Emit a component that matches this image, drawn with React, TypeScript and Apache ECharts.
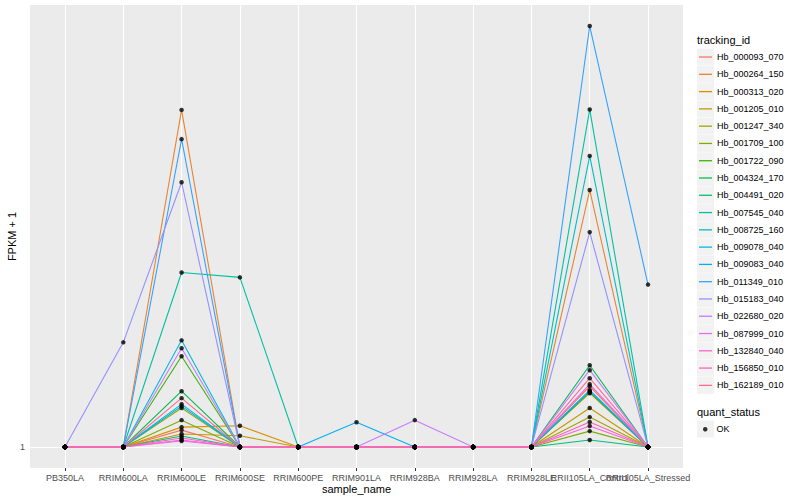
import React, { useEffect, useRef } from "react";
import * as echarts from "echarts";

const samples = [
  "PB350LA", "RRIM600LA", "RRIM600LE", "RRIM600SE", "RRIM600PE", "RRIM901LA",
  "RRIM928BA", "RRIM928LA", "RRIM928LE", "RRII105LA_Control", "RRII105LA_Stressed",
];

const trackingIds = [
  "Hb_000093_070", "Hb_000264_150", "Hb_000313_020", "Hb_001205_010", "Hb_001247_340",
  "Hb_001709_100", "Hb_001722_090", "Hb_004324_170", "Hb_004491_020", "Hb_007545_040",
  "Hb_008725_160", "Hb_009078_040", "Hb_009083_040", "Hb_011349_010", "Hb_015183_040",
  "Hb_022680_020", "Hb_087999_010", "Hb_132840_040", "Hb_156850_010", "Hb_162189_010",
];

const colors = [
  "#F8766D", "#EA8331", "#D89000", "#C09B00", "#A3A500", "#7CAE00", "#39B600", "#00BB4E",
  "#00BF7D", "#00C1A3", "#00BFC4", "#00BAE0", "#00B0F6", "#35A2FF", "#9590FF", "#C77CFF",
  "#E76BF3", "#FA62DB", "#FF62BC", "#FF6C91",
];

// FPKM + 1 per sample, in the order of `samples`
const hb000093_070 = [1, 1, 1.081, 1, 1, 1, 1, 1, 1, 1.324, 1];
const hb000264_150 = [1, 1, 4.75, 1, 1, 1, 1, 1, 1, 3.28, 1];
const hb000313_020 = [1, 1, 1.096, 1.103, 1, 1, 1, 1, 1, 1.282, 1];
const hb001205_010 = [1, 1, 1.062, 1.053, 1, 1, 1, 1, 1, 1.197, 1];
const hb001247_340 = [1, 1, 1.197, 1, 1, 1, 1, 1, 1, 1.148, 1];
const hb001709_100 = [1, 1, 1.132, 1, 1, 1, 1, 1, 1, 1.076, 1];
const hb001722_090 = [1, 1, 1.521, 1, 1, 1, 1, 1, 1, 1.288, 1];
const hb004324_170 = [1, 1, 1.294, 1, 1, 1, 1, 1, 1, 1.459, 1];
const hb004491_020 = [1, 1, 1.052, 1, 1, 1, 1, 1, 1, 1.033, 1];
const hb007545_040 = [1, 1, 2.24, 2.19, 1, 1, 1, 1, 1, 4.76, 1];
const hb008725_160 = [1, 1, 1.219, 1, 1, 1, 1, 1, 1, 3.84, 1];
const hb009078_040 = [1, 1, 1.637, 1, 1, 1, 1, 1, 1, 1.3, 1];
const hb009083_040 = [1, 1, 1.208, 1, 1, 1.121, 1, 1, 1, 1.294, 1];
const hb011349_010 = [1, 1, 4.15, 1, 1, 1, 1, 1, 1, 7.0, 2.118];
const hb015183_040 = [1, 1.622, 3.4, 1, 1, 1, 1, 1, 1, 2.7, 1];
const hb022680_020 = [1, 1, 1.578, 1, 1, 1, 1.132, 1, 1, 1.426, 1];
const hb087999_010 = [1, 1, 1.028, 1, 1, 1, 1, 1, 1, 1.337, 1];
const hb132840_040 = [1, 1, 1.033, 1, 1, 1, 1, 1, 1, 1.102, 1];
const hb156850_010 = [1, 1, 1.042, 1, 1, 1, 1, 1, 1, 1.122, 1];
const hb162189_010 = [1, 1, 1.253, 1, 1, 1, 1, 1, 1, 1.374, 1];

const seriesValues = [
  hb000093_070, hb000264_150, hb000313_020, hb001205_010, hb001247_340,
  hb001709_100, hb001722_090, hb004324_170, hb004491_020, hb007545_040,
  hb008725_160, hb009078_040, hb009083_040, hb011349_010, hb015183_040,
  hb022680_020, hb087999_010, hb132840_040, hb156850_010, hb162189_010,
];

const yTickValues = [1];
const quantStatus = ["OK"];

const FONT = "'Liberation Sans', Arial, Helvetica, sans-serif";

export default function App() {
  const ref = useRef<HTMLDivElement>(null);

  useEffect(() => {
    if (!ref.current) return;
    const chart = echarts.init(ref.current, undefined, { renderer: "svg" });

    const allVals = seriesValues.flat();
    const L = Math.log10(Math.max(...allVals));
    const yMin = Math.pow(10, -0.05 * L);
    const yMax = Math.pow(10, 1.05 * L);
    const xMin = -0.6;
    const xMax = samples.length - 1 + 0.6;
    const idx = samples.map((_, i) => i);
    const evenIdx = idx.filter((i) => i % 2 === 0);
    const oddIdx = idx.filter((i) => i % 2 === 1);

    const lineSeries = trackingIds.map((id, k) => ({
      name: id,
      type: "line",
      data: seriesValues[k].map((v, i) => [i, v]),
      showSymbol: false,
      symbol: "none",
      color: colors[k],
      itemStyle: { color: colors[k] },
      lineStyle: { color: colors[k], width: 1.1 },
      z: 2,
      silent: true,
    }));

    const pointData: number[][] = [];
    seriesValues.forEach((arr) => arr.forEach((v, i) => pointData.push([i, v])));

    const keyRects: any[] = [];
    const legendTop = 48.4;
    const step = 17.28;
    trackingIds.forEach((_, i) => {
      keyRects.push({
        type: "rect",
        shape: { x: 697, y: legendTop + step * i + 0.2, width: 17, height: 16.9 },
        style: { fill: "#F2F2F2" },
        z: -1,
        silent: true,
      });
    });
    keyRects.push({
      type: "rect",
      shape: { x: 697, y: 420.6, width: 17, height: 16.9 },
      style: { fill: "#F2F2F2" },
      z: -1,
      silent: true,
    });

    const labelStyle = {
      color: "#4D4D4D",
      fontSize: 9,
      fontFamily: FONT,
      margin: 5,
      hideOverlap: false,
      showMinLabel: true,
      showMaxLabel: true,
      formatter: (v: number) => samples[Math.round(v)] ?? "",
    };

    chart.setOption({
      animation: false,
      backgroundColor: "#FFFFFF",
      textStyle: { fontFamily: FONT },
      grid: {
        left: 30,
        right: 117,
        top: 5,
        bottom: 32,
        show: true,
        backgroundColor: "#EBEBEB",
        borderWidth: 0,
        containLabel: false,
        outerBoundsMode: "none",
      },
      xAxis: [
        {
          type: "value",
          min: xMin,
          max: xMax,
          name: "sample_name",
          nameLocation: "middle",
          nameGap: 15,
          nameMoveOverlap: false,
          nameTextStyle: { color: "#000000", fontSize: 11, fontFamily: FONT, verticalAlign: "top" },
          axisLine: { show: false },
          axisTick: {
            show: true,
            length: 3,
            lineStyle: { color: "#333333", width: 1 },
            customValues: idx,
          },
          axisLabel: { ...labelStyle, customValues: evenIdx },
          splitLine: { show: true, lineStyle: { color: "#FFFFFF", width: 1.1 } },
        },
        {
          type: "value",
          position: "bottom",
          min: xMin,
          max: xMax,
          axisLine: { show: false },
          axisTick: { show: false },
          axisLabel: { ...labelStyle, customValues: oddIdx },
          splitLine: { show: false },
        },
      ],
      yAxis: {
        type: "log",
        logBase: 10,
        min: yMin,
        max: yMax,
        name: "FPKM + 1",
        nameLocation: "middle",
        nameGap: 13,
        nameMoveOverlap: false,
        nameTextStyle: { color: "#000000", fontSize: 11, fontFamily: FONT },
        axisLine: { show: false },
        axisTick: {
          show: true,
          length: 3,
          lineStyle: { color: "#333333", width: 1 },
          customValues: yTickValues,
        },
        axisLabel: {
          color: "#4D4D4D",
          fontSize: 9,
          fontFamily: FONT,
          margin: 5,
          customValues: yTickValues,
          formatter: (v: number) => String(Math.round(v)),
        },
        splitLine: { show: true, lineStyle: { color: "#FFFFFF", width: 1.1 } },
      },
      legend: [
        {
          data: trackingIds,
          orient: "vertical",
          left: 699,
          top: legendTop,
          padding: 0,
          icon: "rect",
          itemWidth: 13,
          itemHeight: 1.3,
          itemGap: 0,
          selectedMode: false,
          textStyle: { fontSize: 9, color: "#000000", fontFamily: FONT, lineHeight: step },
        },
        {
          data: quantStatus,
          orient: "vertical",
          left: 703,
          top: 420.6,
          padding: 0,
          icon: "circle",
          itemWidth: 4.5,
          itemHeight: 4.5,
          itemGap: 0,
          selectedMode: false,
          textStyle: { fontSize: 9, color: "#000000", fontFamily: FONT, lineHeight: step, padding: [0, 0, 0, 4] },
        },
      ],
      graphic: [
        ...keyRects,
        {
          type: "text",
          x: 697,
          y: 40,
          style: { text: "tracking_id", fontSize: 11, fontFamily: FONT, fill: "#000000", textVerticalAlign: "middle", verticalAlign: "middle" },
          silent: true,
        },
        {
          type: "text",
          x: 697,
          y: 412,
          style: { text: "quant_status", fontSize: 11, fontFamily: FONT, fill: "#000000", textVerticalAlign: "middle", verticalAlign: "middle" },
          silent: true,
        },
      ],
      series: [
        ...lineSeries,
        {
          name: "OK",
          type: "scatter",
          data: pointData,
          symbol: "circle",
          symbolSize: 4.5,
          itemStyle: { color: "#000000" },
          color: "#000000",
          z: 5,
          silent: true,
        },
      ],
    });

    return () => chart.dispose();
  }, []);

  return <div ref={ref} style={{ width: 800, height: 500, position: "absolute", left: 0, top: 0 }} />;
}
